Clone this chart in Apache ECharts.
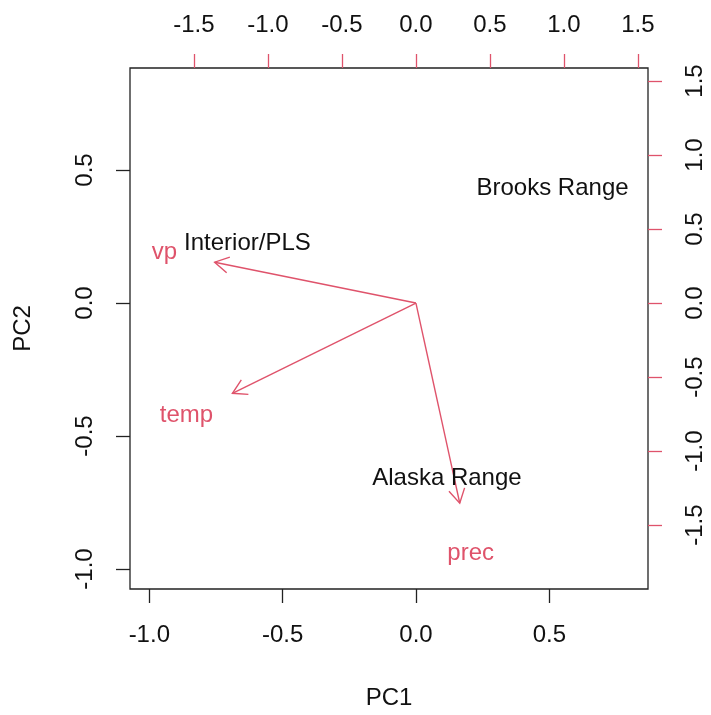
<!DOCTYPE html>
<html>
<head>
<meta charset="utf-8">
<script src="https://cdn.jsdelivr.net/npm/echarts@6/dist/echarts.min.js"></script>
<style>
  html, body { margin: 0; padding: 0; background: #fff; }
  #chart { width: 711px; height: 715px; }
</style>
</head>
<body>
<div id="chart"></div>
<script>
// PCA biplot: site scores (black text) and variable loadings (red arrows)
const siteNames = ['Brooks Range', 'Interior/PLS', 'Alaska Range'];
const sitePC1 = [0.512, -0.632, 0.116];
const sitePC2 = [0.432, 0.226, -0.658];

const varNames = ['vp', 'temp', 'prec'];
const varPC1 = [-1.70, -1.55, 0.37];
const varPC2 = [0.345, -0.762, -1.69];

// score axes (bottom / left) and loading axes (top / right)
const scoreTicks = [-1.0, -0.5, 0.0, 0.5];
const loadingTicks = [-1.5, -1.0, -0.5, 0.0, 0.5, 1.0, 1.5];

// arrows stop at 80% of the loading, labels sit at the loading itself
const ARROW_FRACTION = 0.8;

const RED = '#DF536B';
const FONT = 'Liberation Sans, Arial, Helvetica, sans-serif';
const FS = 24;

const chart = echarts.init(document.getElementById('chart'), null, { renderer: 'canvas' });

const fmt = v => Number(v).toFixed(1);

function scoreAxis(pos, isX, min, max) {
  return {
    type: 'value', position: pos, min: min, max: max,
    axisLine: { show: false, onZero: false },
    splitLine: { show: false },
    axisTick: { show: true, inside: false, length: 14, customValues: scoreTicks,
      lineStyle: { color: '#222', width: 1.3 } },
    axisLabel: { show: true, customValues: scoreTicks, formatter: fmt,
      color: '#111', fontFamily: FONT, fontSize: FS,
      rotate: isX ? 0 : 90, margin: isX ? 34 : 33 },
    name: isX ? 'PC1' : 'PC2',
    nameLocation: 'middle',
    nameGap: isX ? 97 : 95,
    nameRotate: isX ? 0 : 90,
    nameTextStyle: { color: '#111', fontFamily: FONT, fontSize: FS }
  };
}

function loadingAxis(pos, isX, min, max) {
  return {
    type: 'value', position: pos, min: min, max: max,
    axisLine: { show: false, onZero: false },
    splitLine: { show: false },
    axisTick: { show: true, inside: false, length: 14, customValues: loadingTicks,
      lineStyle: { color: RED, width: 1.3 } },
    axisLabel: { show: true, customValues: loadingTicks, formatter: fmt,
      color: '#111', fontFamily: FONT, fontSize: FS,
      rotate: isX ? 0 : 90, margin: isX ? 31 : 35 }
  };
}

const siteData = siteNames.map((n, i) => [sitePC1[i], sitePC2[i], n]);
const varData = varNames.map((n, i) => [varPC1[i], varPC2[i], n]);

function renderArrow(params, api) {
  const lx = api.value(0), ly = api.value(1);
  const o = api.coord([0, 0]);
  const t = api.coord([lx * ARROW_FRACTION, ly * ARROW_FRACTION]);
  const ang = Math.atan2(t[1] - o[1], t[0] - o[0]);
  const hl = 16, ha = Math.PI / 6;
  const p1 = [t[0] - hl * Math.cos(ang - ha), t[1] - hl * Math.sin(ang - ha)];
  const p2 = [t[0] - hl * Math.cos(ang + ha), t[1] - hl * Math.sin(ang + ha)];
  const style = { stroke: RED, lineWidth: 1.4, fill: null };
  return {
    type: 'group',
    children: [
      { type: 'line', shape: { x1: o[0], y1: o[1], x2: t[0], y2: t[1] }, style: style },
      { type: 'polyline', shape: { points: [p1, t, p2] }, style: style }
    ]
  };
}

function textRenderer(color) {
  return function (params, api) {
    const p = api.coord([api.value(0), api.value(1)]);
    return {
      type: 'text',
      x: p[0], y: p[1],
      style: {
        text: api.value(2),
        fill: color,
        font: FS + 'px ' + FONT,
        align: 'center',
        verticalAlign: 'middle'
      }
    };
  };
}

chart.setOption({
  animation: false,
  backgroundColor: '#fff',
  grid: {
    left: 130, right: 63, top: 68, bottom: 126,
    show: true, borderColor: '#222', borderWidth: 1.3, backgroundColor: 'transparent'
  },
  xAxis: [
    scoreAxis('bottom', true, -1.0724, 0.870),
    loadingAxis('top', true, -1.932, 1.568)
  ],
  yAxis: [
    scoreAxis('left', false, -1.0752, 0.8835),
    loadingAxis('right', false, -1.932, 1.588)
  ],
  series: [
    {
      type: 'custom', name: 'loadings', xAxisIndex: 1, yAxisIndex: 1,
      renderItem: renderArrow, data: varData, clip: false,
      encode: { x: 0, y: 1 }
    },
    {
      type: 'custom', name: 'variables', xAxisIndex: 1, yAxisIndex: 1,
      renderItem: textRenderer(RED), data: varData,
      encode: { x: 0, y: 1 }
    },
    {
      type: 'custom', name: 'sites', xAxisIndex: 0, yAxisIndex: 0,
      renderItem: textRenderer('#111'), data: siteData,
      encode: { x: 0, y: 1 }
    }
  ]
});
</script>
</body>
</html>
